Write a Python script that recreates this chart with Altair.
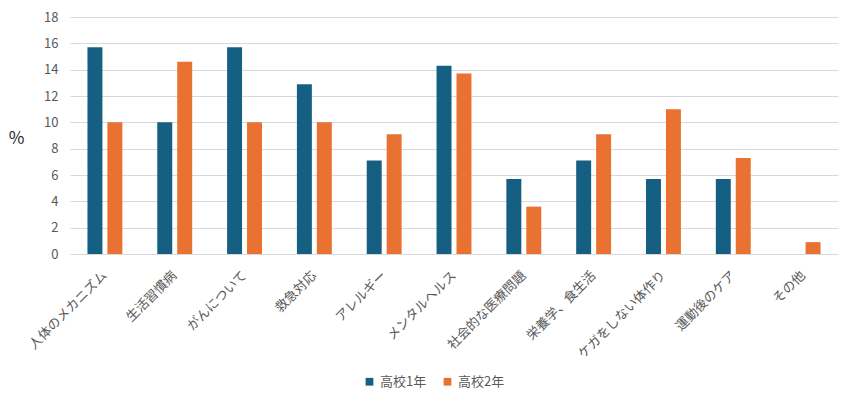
import altair as alt
import pandas as pd

categories = ["人体のメカニズム", "生活習慣病", "がんについて", "救急対応", "アレルギー",
              "メンタルヘルス", "社会的な医療問題", "栄養学、食生活", "ケガをしない体作り",
              "運動後のケア", "その他"]
grade1 = [15.7, 10.0, 15.7, 12.9, 7.1, 14.3, 5.7, 7.1, 5.7, 5.7, 0.0]
grade2 = [10.0, 14.6, 10.0, 10.0, 9.1, 13.7, 3.6, 9.1, 11.0, 7.3, 0.9]
series = ["高校1年", "高校2年"]
colors = ["#156082", "#E97132"]
y_ticks = [0, 2, 4, 6, 8, 10, 12, 14, 16, 18]

rows = []
for c, a, b in zip(categories, grade1, grade2):
    rows.append({"cat": c, "series": series[0], "value": a})
    rows.append({"cat": c, "series": series[1], "value": b})
df = pd.DataFrame(rows)

font = "Noto Sans CJK JP"

chart = alt.Chart(df).mark_bar().encode(
    x=alt.X("cat:N", sort=categories,
            scale=alt.Scale(paddingInner=0.5, paddingOuter=0.25),
            axis=alt.Axis(title=None, labelAngle=-45, labelAlign="right", labelBaseline="middle",
                          labelPadding=19, ticks=False, domain=False, labelFontSize=13,
                          labelColor="#595959", labelFont=font, labelLimit=300)),
    xOffset=alt.XOffset("series:N", sort=series,
                        scale=alt.Scale(paddingInner=0.25, paddingOuter=0)),
    y=alt.Y("value:Q", scale=alt.Scale(domain=[0, 18], nice=False),
            axis=alt.Axis(values=y_ticks, title="%", titleAngle=0, titleX=-54, titleY=121,
                          titleAlign="center", titleBaseline="middle", titleFontSize=17,
                          titleFontWeight="normal", titleColor="#262626", titleFont=font,
                          ticks=False, domain=False, labelPadding=12, labelFontSize=13,
                          labelColor="#595959", labelFont=font,
                          gridColor="#d9d9d9", gridWidth=1)),
    color=alt.Color("series:N", sort=series,
                    scale=alt.Scale(domain=series, range=colors),
                    legend=alt.Legend(title=None, orient="none", direction="horizontal",
                                      legendX=293, legendY=358, symbolType="square",
                                      symbolSize=60, labelFontSize=13, labelColor="#595959",
                                      labelFont=font, columnPadding=14, labelOffset=4)),
).properties(
    width=768, height=237,
    autosize=alt.AutoSizeParams(type="none"),
    padding={"left": 62, "top": 9, "right": 4, "bottom": 136},
).configure_view(stroke=None)

chart.save("out.html", embed_options={"renderer": "svg", "actions": False})
